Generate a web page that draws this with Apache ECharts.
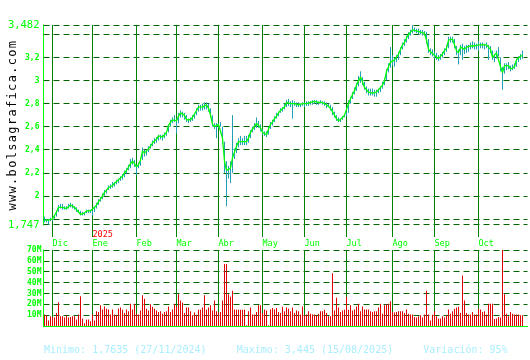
<!DOCTYPE html>
<html>
<head>
<meta charset="utf-8">
<script src="https://cdn.jsdelivr.net/npm/echarts@6/dist/echarts.min.js"></script>
<style>html,body{margin:0;padding:0;background:#fff}#c{width:530px;height:360px}</style>
</head>
<body>
<div id="c"></div>
<script>
// ---- data ----
const closes = [
1.79,1.78,1.79,1.79,1.80,1.81,1.86,1.90,1.91,1.90,1.90,1.89,1.90,1.92,1.91,1.90,1.88,1.86,1.84,1.84,
1.85,1.87,1.86,1.87,1.86,1.90,1.92,1.95,1.97,2.00,2.03,2.05,2.07,2.08,2.09,2.11,2.12,2.14,2.15,2.17,
2.20,2.22,2.25,2.28,2.30,2.28,2.25,2.27,2.31,2.39,2.37,2.38,2.41,2.43,2.46,2.47,2.49,2.52,2.51,2.51,
2.53,2.55,2.61,2.64,2.66,2.67,2.65,2.69,2.72,2.71,2.70,2.66,2.65,2.66,2.68,2.71,2.74,2.77,2.77,2.77,
2.78,2.79,2.76,2.70,2.62,2.60,2.61,2.62,2.62,2.50,2.30,2.22,2.21,2.24,2.33,2.38,2.43,2.47,2.48,2.47,
2.47,2.47,2.50,2.55,2.58,2.60,2.63,2.62,2.59,2.55,2.54,2.53,2.58,2.62,2.64,2.67,2.69,2.72,2.74,2.75,
2.77,2.81,2.80,2.80,2.79,2.80,2.79,2.79,2.79,2.80,2.79,2.80,2.80,2.81,2.81,2.82,2.81,2.81,2.82,2.81,
2.80,2.79,2.79,2.76,2.73,2.70,2.67,2.65,2.66,2.68,2.70,2.71,2.80,2.84,2.88,2.91,2.96,3.00,3.03,2.99,
2.94,2.92,2.90,2.90,2.89,2.90,2.90,2.92,2.93,2.96,3.00,3.08,3.12,3.16,3.17,3.18,3.19,3.23,3.27,3.31,
3.33,3.37,3.40,3.42,3.44,3.44,3.43,3.42,3.42,3.41,3.41,3.35,3.27,3.25,3.24,3.22,3.21,3.19,3.21,3.23,
3.26,3.28,3.35,3.36,3.36,3.31,3.26,3.24,3.29,3.28,3.27,3.29,3.28,3.30,3.31,3.30,3.30,3.31,3.30,3.31,
3.30,3.31,3.29,3.27,3.20,3.21,3.24,3.24,3.12,3.07,3.13,3.12,3.13,3.10,3.11,3.12,3.18,3.19,3.21,3.22
];
const lows = [
1.77,1.77,1.75,1.78,1.78,1.80,1.82,1.86,1.89,1.88,1.88,1.88,1.89,1.90,1.89,1.88,1.86,1.85,1.83,1.83,
1.83,1.85,1.85,1.85,1.83,1.86,1.89,1.92,1.95,1.97,2.00,2.02,2.05,2.06,2.07,2.08,2.10,2.11,2.13,2.14,
2.16,2.19,2.22,2.24,2.27,2.25,2.18,2.24,2.26,2.31,2.34,2.35,2.38,2.41,2.43,2.45,2.46,2.48,2.49,2.48,
2.50,2.52,2.55,2.60,2.63,2.64,2.54,2.63,2.68,2.68,2.66,2.64,2.63,2.64,2.65,2.67,2.70,2.73,2.74,2.74,
2.75,2.75,2.73,2.68,2.60,2.58,2.50,2.59,2.60,2.45,2.20,1.91,2.15,2.11,2.20,2.32,2.37,2.42,2.44,2.44,
2.44,2.44,2.46,2.50,2.55,2.57,2.59,2.59,2.56,2.53,2.52,2.51,2.53,2.58,2.61,2.64,2.67,2.69,2.72,2.73,
2.75,2.77,2.78,2.77,2.67,2.78,2.77,2.77,2.77,2.78,2.77,2.78,2.78,2.79,2.79,2.80,2.79,2.79,2.80,2.79,
2.78,2.76,2.77,2.74,2.70,2.68,2.65,2.64,2.64,2.66,2.68,2.69,2.72,2.80,2.84,2.88,2.91,2.95,2.98,2.96,
2.92,2.89,2.87,2.87,2.87,2.86,2.86,2.89,2.90,2.93,2.96,3.00,3.07,3.11,3.13,3.12,3.16,3.18,3.22,3.27,
3.30,3.33,3.36,3.39,3.41,3.42,3.41,3.40,3.40,3.39,3.39,3.32,3.24,3.22,3.21,3.19,3.18,3.17,3.18,3.20,
3.22,3.25,3.28,3.33,3.33,3.28,3.22,3.14,3.22,3.18,3.23,3.24,3.25,3.27,3.28,3.27,3.27,3.26,3.28,3.28,
3.27,3.28,3.18,3.24,3.18,3.16,3.19,3.21,3.08,2.92,3.06,3.09,3.10,3.08,3.09,3.10,3.12,3.16,3.18,3.19
];
const highs = [
1.82,1.80,1.80,1.81,1.81,1.83,1.87,1.92,1.93,1.93,1.91,1.91,1.93,1.94,1.93,1.91,1.90,1.88,1.87,1.86,
1.86,1.88,1.88,1.88,1.87,1.91,1.94,1.97,1.99,2.02,2.05,2.06,2.09,2.10,2.12,2.12,2.14,2.15,2.17,2.19,
2.22,2.24,2.27,2.32,2.33,2.31,2.27,2.29,2.33,2.42,2.40,2.40,2.43,2.45,2.48,2.50,2.51,2.53,2.53,2.53,
2.55,2.56,2.62,2.66,2.68,2.70,2.67,2.72,2.74,2.73,2.72,2.70,2.67,2.68,2.70,2.72,2.76,2.79,2.79,2.80,
2.81,2.81,2.80,2.76,2.70,2.63,2.63,2.63,2.64,2.60,2.47,2.30,2.26,2.30,2.70,2.41,2.46,2.50,2.52,2.50,
2.52,2.52,2.53,2.57,2.60,2.63,2.68,2.65,2.62,2.58,2.56,2.56,2.60,2.64,2.66,2.69,2.72,2.73,2.76,2.77,
2.80,2.83,2.84,2.82,2.83,2.82,2.81,2.81,2.80,2.81,2.81,2.82,2.82,2.82,2.83,2.83,2.83,2.82,2.83,2.82,
2.82,2.81,2.80,2.79,2.77,2.73,2.70,2.68,2.67,2.69,2.71,2.73,2.83,2.86,2.90,2.94,2.98,3.04,3.08,3.03,
2.99,2.95,2.93,2.93,2.93,2.92,2.92,2.93,2.95,2.99,3.02,3.10,3.15,3.29,3.22,3.20,3.22,3.25,3.29,3.33,
3.36,3.39,3.42,3.44,3.48,3.46,3.45,3.45,3.44,3.44,3.43,3.42,3.36,3.28,3.27,3.25,3.24,3.22,3.23,3.25,
3.28,3.31,3.38,3.38,3.38,3.36,3.30,3.27,3.31,3.32,3.30,3.31,3.31,3.33,3.34,3.33,3.32,3.34,3.33,3.33,
3.32,3.33,3.31,3.30,3.26,3.23,3.26,3.29,3.20,3.12,3.15,3.15,3.16,3.13,3.14,3.15,3.19,3.21,3.23,3.26
];
// volumes in millions
const volumes = [
10.7,10,5,9,8.4,7.8,12,21.8,9,9,7.8,9.6,7.8,8.4,9,9,6,10.7,27.3,7,
2.5,6,6,4.3,10.7,5,13.7,12.8,19,15.3,18,16,15.3,10.7,15.3,10.7,10,16,17,15,
12,15.3,13.7,20.5,15.3,20.5,11.3,10.7,14.3,28.3,25,16,14.3,20,17.7,16,14.3,12.8,13.7,11.3,
12.8,13.7,18,12.8,15.3,20.5,18,29.3,23.6,21.5,12,17,17,13.7,10,12.5,10.3,15,15,17,
28.3,15,17,19,14.3,23.6,13.7,12.4,12.8,23.6,57,57,29.3,27,32.5,15.3,15,15,15,15,
15,0.8,13.7,17,10.7,10.7,12.8,19,19,12,15.3,14.3,0.8,15.3,16.5,15.3,16.5,12.8,12,17.7,
13.7,17,16,13.7,17,12,14.3,13.7,10.7,18,10,10.7,13.7,11.3,10.7,10.7,10,11.3,13.7,13.7,
15,12,9,9,48.5,14.3,26,17,12.8,14.3,15,27,15,19,14.3,15.3,18,20.5,13.7,18,
15.3,15.3,15.3,13.7,12.8,13.7,13.7,17,20.5,11.3,19,20,20.5,22.7,12.8,12.5,12.8,13.7,13.7,13.7,
12,15.3,11.3,10.7,10.7,8.4,7.8,9,10,7.8,10.7,32.5,10.7,5,10.3,13.7,9,6.8,6.8,9,
7.8,10,15.3,11.3,13.7,16,17,17.7,12,46.5,23.6,12,10.7,10.7,12.8,10.7,10.7,16,15.3,12.8,
13.7,10.7,20.5,20.5,20.5,6.4,7,8.4,7.8,70,29.3,11.3,9,12.8,11.3,10.7,10.7,10.7,10,10
];
const slotCount = 242;
const categories = Array.from({length: slotCount}, (_, i) => String(i));
const monthStarts = [4, 24, 46, 66, 87, 109, 130, 151, 174, 195, 217];
const monthNames = ['Dic', 'Ene', 'Feb', 'Mar', 'Abr', 'May', 'Jun', 'Jul', 'Ago', 'Sep', 'Oct'];
const yearMarks = {24: '2025'};
const priceMin = 1.747, priceMax = 3.482;
const priceGridValues = [1.747, 1.8, 2.0, 2.2, 2.4, 2.6, 2.8, 3.0, 3.2, 3.4, 3.482];
const priceLabelValues = [1.747, 2, 2.2, 2.4, 2.6, 2.8, 3, 3.2, 3.482];
const volumeMax = 70, volumeStep = 10;
const footerText = 'Minimo: 1,7635 (27/11/2024)     Maximo: 3,445 (15/08/2025)     Variación: 95%';
const siteText = 'www.bolsagrafica.com';

// ---- styles ----
const GREEN = '#00ff00';
const DASH = '#006400';
const VLINE = '#008000';
const RANGE = '#1fa0b4';
const MONO = '"DejaVu Sans Mono", monospace';

const isMonth = (idx) => monthStarts.indexOf(idx) >= 0;

const chart = echarts.init(document.getElementById('c'), null, {renderer: 'canvas'});

const siteGraphics = siteText.split('').map((ch, k) => ({
  type: 'text',
  x: 13,
  y: 207 - k * 8.55,
  rotation: Math.PI / 2,
  style: {text: ch, fill: '#000', font: '12px ' + MONO, align: 'center', verticalAlign: 'middle'},
  silent: true
}));

const rangeData = lows.map((l, i) => [i, l, highs[i]]);

const option = {
  animation: false,
  backgroundColor: '#ffffff',
  grid: [
    {left: 43.5, width: 484, top: 25, height: 200},
    {left: 43.5, width: 484, top: 250, height: 76}
  ],
  xAxis: [
    {
      type: 'category', gridIndex: 0, data: categories, boundaryGap: true,
      axisLine: {show: false},
      axisTick: {show: true, alignWithLabel: true, interval: isMonth, length: 12, lineStyle: {color: VLINE}},
      axisLabel: {
        interval: isMonth, margin: 5, align: 'left',
        formatter: (val) => {
          const i = Number(val);
          const m = monthStarts.indexOf(i);
          const yr = yearMarks[i] ? '{y|' + yearMarks[i] + '}' : '{y| }';
          return yr + '\n{m|' + (m >= 0 ? monthNames[m] : '') + '}';
        },
        rich: {
          y: {color: '#ff0000', fontSize: 8.5, fontFamily: MONO, lineHeight: 9},
          m: {color: GREEN, fontSize: 8.5, fontFamily: MONO, lineHeight: 9}
        }
      },
      splitLine: {show: false}
    },
    {
      type: 'category', gridIndex: 1, data: categories, boundaryGap: true,
      axisLine: {show: true, lineStyle: {color: GREEN}},
      axisTick: {show: false}, axisLabel: {show: false}, splitLine: {show: false}
    }
  ],
  yAxis: [
    {
      type: 'value', gridIndex: 0, min: priceMin, max: priceMax,
      axisLine: {show: true, lineStyle: {color: GREEN}},
      axisTick: {show: false}, splitLine: {show: false},
      axisLabel: {
        customValues: priceLabelValues, margin: 4,
        formatter: (v) => {
          const s = String(v).replace('.', ',');
          return (v === priceMin || v === priceMax) ? '{b|' + s + '}' : '{s|' + s + '}';
        },
        rich: {
          b: {color: GREEN, fontSize: 10.5, fontFamily: MONO},
          s: {color: GREEN, fontSize: 8, fontWeight: 'bold', fontFamily: MONO}
        }
      }
    },
    {
      type: 'value', gridIndex: 1, min: 0, max: volumeMax, interval: volumeStep,
      axisLine: {show: true, lineStyle: {color: GREEN}},
      axisTick: {show: false},
      splitLine: {show: true, lineStyle: {color: DASH, type: [6, 4], width: 1}},
      axisLabel: {
        margin: 2, color: GREEN, fontSize: 8, fontWeight: 'bold', fontFamily: MONO,
        formatter: (v) => v === 0 ? '' : v + 'M'
      }
    }
  ],
  series: [
    {
      type: 'custom', xAxisIndex: 0, yAxisIndex: 0, data: rangeData, silent: true, z: 2,
      encode: {x: 0, y: [1, 2]},
      renderItem: (params, api) => {
        const p1 = api.coord([api.value(0), api.value(1)]);
        const p2 = api.coord([api.value(0), api.value(2)]);
        const x = Math.floor(p1[0]) + 0.5;
        return {
          type: 'line',
          shape: {x1: x, y1: p1[1], x2: x, y2: p2[1]},
          style: {stroke: RANGE, lineWidth: 1}
        };
      }
    },
    {
      type: 'line', xAxisIndex: 0, yAxisIndex: 0, data: closes,
      symbol: 'none', lineStyle: {color: GREEN, width: 1.3}, silent: true, z: 3,
      markLine: {
        silent: true, symbol: ['none', 'none'], label: {show: false}, z: 1, animation: false,
        data: priceGridValues.map(v => ({yAxis: v, lineStyle: {color: DASH, type: [6, 4], width: 1}}))
          .concat(monthStarts.map(i => ({xAxis: i, lineStyle: {color: VLINE, type: 'solid', width: 1}})))
      }
    },
    {
      type: 'bar', xAxisIndex: 1, yAxisIndex: 1, data: volumes, barWidth: 1,
      itemStyle: {color: '#e00000'}, silent: true, z: 3,
      markLine: {
        silent: true, symbol: ['none', 'none'], label: {show: false}, z: 1, animation: false,
        data: monthStarts.map(i => ({xAxis: i, lineStyle: {color: VLINE, type: 'solid', width: 1}}))
      }
    }
  ],
  graphic: siteGraphics.concat([
    {
      type: 'text', left: 44, top: 345, silent: true,
      style: {text: footerText, fill: '#aaeeff', font: '10px ' + MONO}
    }
  ])
};
chart.setOption(option);
</script>
</body>
</html>
